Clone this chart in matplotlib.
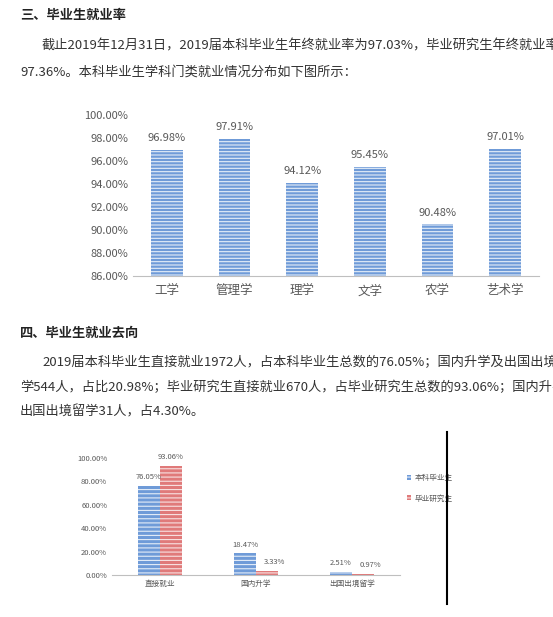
import matplotlib.pyplot as plt
import numpy as np

plt.rcParams['font.family'] = ['Noto Sans CJK SC', 'DejaVu Sans']
plt.rcParams['hatch.linewidth'] = 0.8

subjects = ['工学', '管理学', '理学', '文学', '农学', '艺术学']
rates = [96.98, 97.91, 94.12, 95.45, 90.48, 97.01]

dest = ['直接就业', '国内升学', '出国出境留学']
undergrad = [76.05, 18.47, 2.51]
postgrad = [93.06, 3.33, 0.97]

W, H = 553, 617
fig = plt.figure(figsize=(W / 100, H / 100), dpi=100)


def t(x, y, s, color='#333333', **kw):
    fig.text(x / W, 1 - y / H, s, va='center', fontsize=9.5, color=color, **kw)


t(20, 15, '三、毕业生就业率', weight='bold', color='#222222')
t(42, 46, '截止2019年12月31日，2019届本科毕业生年终就业率为97.03%，毕业研究生年终就业率为')
t(20, 72, '97.36%。本科毕业生学科门类就业情况分布如下图所示：')
t(20, 333, '四、毕业生就业去向', weight='bold', color='#222222')
t(42, 362, '2019届本科毕业生直接就业1972人，占本科毕业生总数的76.05%；国内升学及出国出境留')
t(20, 387, '学544人，占比20.98%；毕业研究生直接就业670人，占毕业研究生总数的93.06%；国内升学及')
t(20, 412, '出国出境留学31人，占4.30%。')

gray = '#595959'

# top chart
ax = fig.add_axes([133 / W, 1 - 276 / H, 406 / W, 161 / H])
x = np.arange(len(subjects))
ax.bar(x, rates, width=0.47, color='#6f9bd8', edgecolor='#e4edf8', hatch='-----', linewidth=0)
for xi, v in zip(x, rates):
    ax.text(xi, v + 0.6, f'{v:.2f}%', ha='center', va='bottom', fontsize=8, color=gray)
ax.set_ylim(86, 100)
ax.set_xlim(-0.5, len(subjects) - 0.5)
ax.set_yticks(np.arange(86, 101, 2))
ax.set_yticklabels([f'{v:.2f}%' for v in np.arange(86, 101, 2)])
ax.set_xticks(x)
ax.set_xticklabels(subjects)
ax.tick_params(length=0, labelsize=8, colors=gray)
ax.tick_params(axis='x', labelsize=9, pad=6)
for s in ['top', 'right', 'left']:
    ax.spines[s].set_visible(False)
ax.spines['bottom'].set_color('#bfbfbf')
ax.set_facecolor('none')

# bottom chart
ax2 = fig.add_axes([112 / W, 1 - 575 / H, 288 / W, 117 / H])
x2 = np.arange(len(dest))
bw = 0.23
ax2.bar(x2 - bw / 2, undergrad, width=bw, color='#6f9bd8', edgecolor='#e4edf8',
        hatch='----', linewidth=0, label='本科毕业生')
ax2.bar(x2 + bw / 2, postgrad, width=bw, color='#e07a7a', edgecolor='#f8e2e2',
        hatch='----', linewidth=0, label='毕业研究生')
for xi, v in zip(x2, undergrad):
    ax2.text(xi - bw / 2, v + 4, f'{v:.2f}%', ha='center', va='bottom', fontsize=5.5, color=gray)
for xi, v in zip(x2, postgrad):
    ax2.text(xi + bw / 2 + (0.08 if v < 10 else 0), v + 4, f'{v:.2f}%', ha='center', va='bottom',
             fontsize=5.5, color=gray)
ax2.set_ylim(0, 100)
ax2.set_xlim(-0.5, len(dest) - 0.5)
ax2.set_yticks(np.arange(0, 101, 20))
ax2.set_yticklabels([f'{v:.2f}%' for v in np.arange(0, 101, 20)])
ax2.set_xticks(x2)
ax2.set_xticklabels(dest)
ax2.tick_params(length=0, labelsize=5.5, colors=gray)
for s in ['top', 'right', 'left']:
    ax2.spines[s].set_visible(False)
ax2.spines['bottom'].set_color('#bfbfbf')
ax2.legend(loc='upper left', bbox_to_anchor=(1.0, 0.92), frameon=False, fontsize=5.5,
           labelcolor=gray, handlelength=0.6, handleheight=0.6, labelspacing=1.6,
           handletextpad=0.4)

fig.add_artist(plt.Line2D([447 / W, 447 / W], [1 - 432 / H, 1 - 604 / H], color='black', lw=1.5))

fig.savefig('out.png', dpi=100)
